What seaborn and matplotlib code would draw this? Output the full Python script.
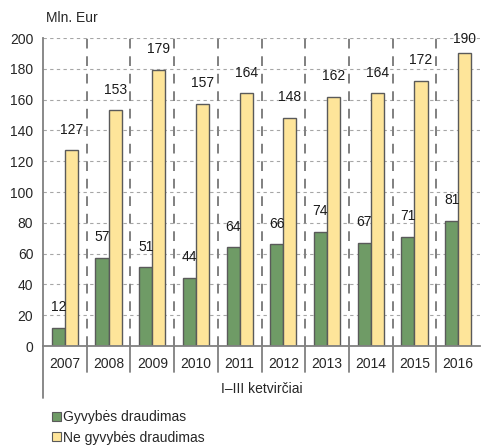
import pandas as pd
import matplotlib
matplotlib.use('Agg')
import matplotlib.pyplot as plt
import matplotlib.transforms as mtransforms
from matplotlib.patches import Patch
import seaborn as sns

# Data (mln. Eur, I-III quarters)
years = ['2007', '2008', '2009', '2010', '2011', '2012', '2013', '2014', '2015', '2016']
life = [12, 57, 51, 44, 64, 66, 74, 67, 71, 81]
non_life = [127, 153, 179, 157, 164, 148, 162, 164, 172, 190]
series_names = ['Gyvybės draudimas', 'Ne gyvybės draudimas']
colors = ['#6f9b66', '#fee59a']

df = pd.DataFrame({
    'year': years * 2,
    'value': life + non_life,
    'series': [series_names[0]] * len(years) + [series_names[1]] * len(years),
})

sns.set_style('white')
plt.rcParams['font.family'] = ['Liberation Sans', 'DejaVu Sans']
fs = 10

fig = plt.figure(figsize=(4.85, 4.46), dpi=100)
ax = fig.add_axes([43 / 485, 1 - 346 / 446, (480 - 43) / 485, (346 - 38) / 446])

sns.barplot(data=df, x='year', y='value', hue='series', palette=colors, saturation=1,
            width=0.6, edgecolor='#5a5a5a', linewidth=1, legend=False, ax=ax)

ax.set_ylim(0, 200)
ax.set_xlim(-0.5, len(years) - 0.5)
ax.set_yticks(range(0, 201, 20))
ax.set_xlabel('')
ax.set_ylabel('')

# grid lines
for yv in range(20, 201, 20):
    ax.axhline(yv, color='#a6a6a6', lw=0.8, ls=(0, (3, 3)), zorder=0)
for i in range(len(years) - 1):
    ax.axvline(i + 0.5, color='#808080', lw=1.4, ls=(0, (5, 4)), zorder=0)

# value labels (kept inside the plot area like the original)
for bars in ax.containers:
    for rect in bars:
        h = rect.get_height()
        ax.text(rect.get_x() + rect.get_width() / 2, min(h + 9, 195), f'{h:.0f}',
                ha='center', va='bottom', fontsize=fs, color='#1a1a1a')

for s in ['top', 'right']:
    ax.spines[s].set_visible(False)
for s in ['left', 'bottom']:
    ax.spines[s].set_color('#808080')
    ax.spines[s].set_linewidth(1.3)

ax.tick_params(axis='y', length=4, width=1, color='#808080', pad=3, labelsize=fs)
ax.tick_params(axis='x', length=0, pad=8, labelsize=fs)

# separators under the axis
trans = mtransforms.blended_transform_factory(ax.transData, ax.transAxes)
for i in range(len(years) - 1):
    ax.plot([i + 0.5, i + 0.5], [0, -0.085], transform=trans, color='#808080',
            lw=1.3, clip_on=False)
ax.plot([-0.5, -0.5], [0, -0.17], transform=trans, color='#808080', lw=1.3, clip_on=False)

ax.text(0.5, -0.138, 'I–III ketvirčiai', transform=ax.transAxes, ha='center',
        va='center', fontsize=fs)
fig.text(46 / 485, 1 - 18 / 446, 'Mln. Eur', ha='left', va='center', fontsize=fs)

handles = [Patch(facecolor=c, edgecolor='#5a5a5a', lw=0.8) for c in colors]
fig.legend(handles, series_names, loc='upper left', bbox_to_anchor=(51 / 485, 1 - 409 / 446),
           frameon=False, handlelength=0.6, handleheight=0.6, handletextpad=0.2,
           labelspacing=0.45, fontsize=fs, borderaxespad=0, borderpad=0.1)

fig.savefig('out.png', dpi=100)
